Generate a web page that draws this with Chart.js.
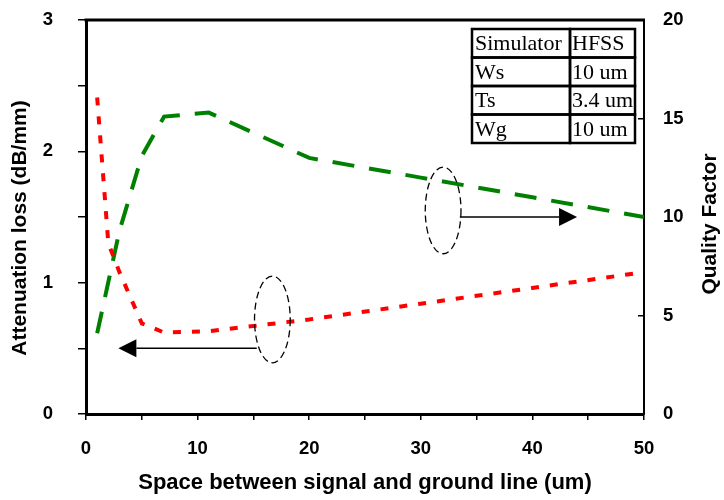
<!DOCTYPE html>
<html>
<head>
<meta charset="utf-8">
<script src="https://cdn.jsdelivr.net/npm/chart.js@4.4.0/dist/chart.umd.min.js"></script>
<style>
  html, body { margin: 0; padding: 0; background: #fff; }
  #wrap { width: 724px; height: 500px; }
</style>
</head>
<body>
<div id="wrap"><canvas id="myChart" width="724" height="500"></canvas></div>
<script>
// data
const spacing = [1, 2, 3, 5, 7, 11, 20, 30, 40, 50];
const attenuation = [2.41, 1.30, 1.08, 0.69, 0.62, 0.63, 0.72, 0.84, 0.96, 1.08];
const qualityFactor = [4.1, 6.7, 9.3, 13.1, 15.1, 15.3, 13.0, 12.0, 11.0, 10.0];
const tableRows = [['Simulator', 'HFSS'], ['Ws', '10 um'], ['Ts', '3.4 um'], ['Wg', '10 um']];

const SANS = '"Liberation Sans", Arial, sans-serif';
const SERIF = '"Liberation Serif", "Times New Roman", serif';

// ellipse + arrow callouts, in data units (x, left axis)
const callouts = [
    { cx: 16.7, cy: 0.72, rx: 1.6, ry: 0.33, from: 15.3, to: 2.9, y: 0.50 },
    { cx: 32.0, cy: 1.55, rx: 1.6, ry: 0.33, from: 33.5, to: 44.0, y: 1.50 }
];

const extras = {
    id: 'extras',
    afterDraw(chart) {
        const ctx = chart.ctx;
        const area = chart.chartArea;
        const x = chart.scales.x;
        const y = chart.scales.yL;
        const midY = (area.top + area.bottom) / 2;

        // top frame line
        ctx.save();
        ctx.strokeStyle = '#000';
        ctx.lineWidth = 3;
        ctx.beginPath();
        ctx.moveTo(area.left - 1.5, area.top);
        ctx.lineTo(area.right + 1, area.top);
        ctx.stroke();
        ctx.restore();

        // both y titles read bottom to top
        const sideTitle = (text, cx, cy) => {
            ctx.save();
            ctx.fillStyle = '#000';
            ctx.font = 'bold 21px ' + SANS;
            ctx.textAlign = 'center';
            ctx.textBaseline = 'middle';
            ctx.translate(cx, cy);
            ctx.rotate(-Math.PI / 2);
            ctx.fillText(text, 0, 0);
            ctx.restore();
        };
        sideTitle('Attenuation loss (dB/mm)', area.left - 66, midY + 11);
        sideTitle('Quality Factor', area.right + 66, midY + 7);

        // callouts
        callouts.forEach(c => {
            const cx = x.getPixelForValue(c.cx);
            const cy = y.getPixelForValue(c.cy);
            const rx = Math.abs(x.getPixelForValue(c.cx + c.rx) - cx);
            const ry = Math.abs(y.getPixelForValue(c.cy + c.ry) - cy);
            ctx.save();
            ctx.strokeStyle = '#000';
            ctx.lineWidth = 1.3;
            ctx.setLineDash([7, 4]);
            ctx.beginPath();
            ctx.ellipse(cx, cy, rx, ry, 0, 0, Math.PI * 2);
            ctx.stroke();
            ctx.setLineDash([]);

            const x1 = x.getPixelForValue(c.from);
            const x2 = x.getPixelForValue(c.to);
            const ay = y.getPixelForValue(c.y);
            const dir = x2 > x1 ? 1 : -1;
            const head = 18;
            ctx.lineWidth = 1.5;
            ctx.beginPath();
            ctx.moveTo(x1, ay);
            ctx.lineTo(x2 - dir * head, ay);
            ctx.stroke();
            ctx.fillStyle = '#000';
            ctx.beginPath();
            ctx.moveTo(x2, ay);
            ctx.lineTo(x2 - dir * head, ay - 9);
            ctx.lineTo(x2 - dir * head, ay + 9);
            ctx.closePath();
            ctx.fill();
            ctx.restore();
        });

        // parameter table
        const tLeft = area.right - 172, tTop = area.top + 9;
        const colW = [98, 65], rowH = 28.5;
        ctx.save();
        ctx.strokeStyle = '#000';
        ctx.lineWidth = 2.5;
        ctx.fillStyle = '#000';
        ctx.font = '22px ' + SERIF;
        ctx.textAlign = 'left';
        ctx.textBaseline = 'middle';
        tableRows.forEach((row, i) => {
            const ry = tTop + i * rowH;
            ctx.strokeRect(tLeft, ry, colW[0], rowH);
            ctx.strokeRect(tLeft + colW[0], ry, colW[1], rowH);
            ctx.fillText(row[0], tLeft + 3, ry + rowH / 2 + 1);
            ctx.fillText(row[1], tLeft + colW[0] + 2, ry + rowH / 2 + 1);
        });
        ctx.restore();
    }
};

const tickFont = { family: SANS, size: 18.5, weight: 'bold' };

// fixed axis boxes so the plot area matches the original frame
const fitY = w => s => { s.width = w; s.paddingTop = 10; s.paddingBottom = 10; };

new Chart(document.getElementById('myChart').getContext('2d'), {
    type: 'line',
    data: {
        datasets: [
            {
                label: 'Attenuation loss',
                data: spacing.map((s, i) => ({ x: s, y: attenuation[i] })),
                yAxisID: 'yL',
                borderColor: '#ff0000',
                borderWidth: 4,
                borderDash: [8, 11],
                pointRadius: 0,
                tension: 0,
                fill: false
            },
            {
                label: 'Quality Factor',
                data: spacing.map((s, i) => ({ x: s, y: qualityFactor[i] })),
                yAxisID: 'yR',
                borderColor: '#008000',
                borderWidth: 4,
                borderDash: [22, 15],
                pointRadius: 0,
                tension: 0,
                fill: false
            }
        ]
    },
    options: {
        responsive: false,
        animation: false,
        layout: { padding: { top: 20, left: 0, right: 0, bottom: 0 } },
        plugins: { legend: { display: false }, tooltip: { enabled: false } },
        scales: {
            x: {
                type: 'linear',
                min: 0,
                max: 50,
                ticks: {
                    stepSize: 5,
                    autoSkip: false,
                    maxRotation: 0,
                    color: '#000',
                    font: tickFont,
                    padding: 18,
                    callback: v => (v % 10 === 0 ? v : '')
                },
                grid: { drawOnChartArea: false, tickLength: 6, color: '#000', lineWidth: 1.5 },
                border: { color: '#000', width: 3 },
                title: {
                    display: true,
                    text: 'Space between signal and ground line (um)',
                    color: '#000',
                    font: { family: SANS, size: 22, weight: 'bold' },
                    padding: { top: 0, bottom: 4 }
                },
                afterFit: s => { s.height = 86; s.paddingLeft = 0; s.paddingRight = 0; }
            },
            yL: {
                position: 'left',
                min: 0,
                max: 3,
                ticks: {
                    stepSize: 0.5,
                    autoSkip: false,
                    color: '#000',
                    font: tickFont,
                    padding: 25,
                    callback: v => (Number.isInteger(v) ? v : '')
                },
                grid: { drawOnChartArea: false, tickLength: 8, color: '#000', lineWidth: 1.5 },
                border: { color: '#000', width: 3 },
                afterFit: fitY(86)
            },
            yR: {
                position: 'right',
                min: 0,
                max: 20,
                ticks: {
                    stepSize: 5,
                    autoSkip: false,
                    color: '#000',
                    font: tickFont,
                    padding: 25
                },
                grid: { drawOnChartArea: false, tickLength: -6, color: '#000', lineWidth: 1.5 },
                border: { color: '#000', width: 2 },
                afterFit: fitY(80)
            }
        }
    },
    plugins: [extras]
});
</script>
</body>
</html>
